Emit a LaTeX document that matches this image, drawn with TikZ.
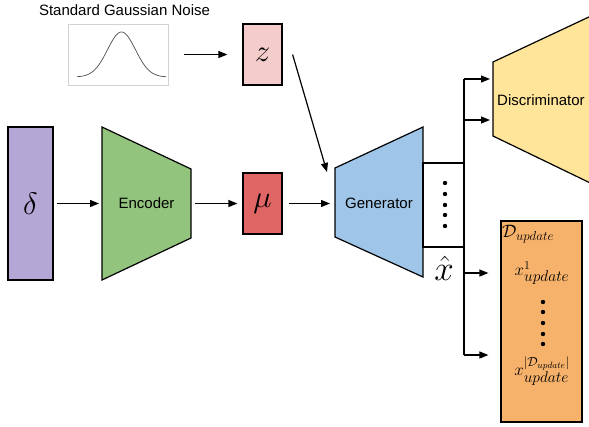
\RequirePackage{fix-cm}
\documentclass[tikz,border=0pt]{standalone}
\usepackage{fontspec}
\newfontfamily\arialf{Liberation Sans}
\usetikzlibrary{arrows.meta,calc}
\definecolor{zpink}{HTML}{F4CCCC}
\definecolor{dpurple}{HTML}{B4A7D6}
\definecolor{egreen}{HTML}{93C47D}
\definecolor{mred}{HTML}{E06666}
\definecolor{gblue}{HTML}{9FC5E8}
\definecolor{dyellow}{HTML}{FFE599}
\definecolor{dorange}{HTML}{F6B26B}
\newcommand{\fsz}[2]{\mbox{\fontsize{#1}{#1}\selectfont$#2$}}
\begin{document}
\begin{tikzpicture}[x=1pt,y=-1pt,
  box/.style={draw=black, line width=1.2pt, inner sep=0pt},
  ghost/.style={inner sep=0pt, outer sep=0pt},
  arr/.style={-{Triangle[length=9pt,width=7pt]}, line width=1.2pt},
  lab/.style={font=\arialf\fontsize{15}{15}\selectfont, inner sep=0pt},
  bigmath/.style={font=\fontsize{31}{31}\selectfont, inner sep=0pt},
  smallmath/.style={font=\fontsize{17}{17}\selectfont, inner sep=0pt}]
\useasboundingbox (0,0) rectangle (589,426);
\clip (0,0) rectangle (589,426);

% Gaussian noise
\node[lab] (title) at (124.5,10) {Standard Gaussian Noise};
\node[draw=gray!35, line width=0.7pt, minimum width=100pt, minimum height=61pt] (g) at (118,54.5) {};
\draw[gray!60!black, line width=0.7pt] plot[domain=77:166, samples=90] (\x, {77-45*exp(-((\x-121.5)/14)^2/2)});

% z
\node[box, fill=zpink, minimum width=39pt, minimum height=61pt] (z) at (262.5,54.5) {};
\node[bigmath] (zl) at (z) {$z$};
\draw[arr, shorten <=16pt, shorten >=15pt] (g.east) -- (z.west);

% delta
\node[box, fill=dpurple, minimum width=45pt, minimum height=153pt] (delta) at (30.5,203.5) {};
\node[bigmath] (dl) at (delta) {$\delta$};

% encoder
\node[ghost, minimum width=89pt, minimum height=153pt] (enc) at (146.5,203.5) {};
\draw[box, fill=egreen] (enc.north west) -- ($(enc.north east)+(0,42)$) -- ($(enc.south east)+(0,-42)$) -- (enc.south west) -- cycle;
\node[lab] (encl) at (enc) {Encoder};
\draw[arr, shorten <=3pt, shorten >=3pt] (delta.east) -- (enc.west);

% mu
\node[box, fill=mred, minimum width=39pt, minimum height=61pt] (mu) at (262.5,203.5) {};
\node[bigmath] (mul) at (mu) {$\mu$};
\draw[arr, shorten <=4pt, shorten >=5pt] (enc.east) -- (mu.west);

% generator
\node[ghost, minimum width=88pt, minimum height=150pt] (gen) at (379,202) {};
\draw[box, fill=gblue] ($(gen.north west)+(0,41)$) -- (gen.north east) -- (gen.south east) -- ($(gen.south west)+(0,-40)$) -- cycle;
\node[lab] (genl) at (379,203) {Generator};
\draw[arr, shorten <=6pt, shorten >=5pt] (mu.east) -- (mu.east -| gen.west);
\coordinate (gtl) at ($(gen.north west)+(0,41)$);
\draw[arr] ($(z.east)+(10,0)$) -- ($(gtl)+(-8,4)$);

% generator output
\node[box, minimum width=41pt, minimum height=84pt] (out) at (443.5,205) {};
\foreach \yy in {183,194,205,215,226} \fill (445,\yy) circle (2.2pt);
\node[font=\fontsize{35}{35}\selectfont, inner sep=0pt] (xhat) at (444,268) {$\hat{x}$};

% bus
\coordinate (btop) at (464,79);
\coordinate (bbot) at (464,355);
\draw[line width=1.2pt] (btop) -- (bbot);

% discriminator
\node[ghost, minimum width=0pt, minimum height=74pt, anchor=west] (disc) at (493,99) {};
\draw[box, fill=dyellow] (disc.north west) -- (640,-7) -- (640,207) -- (disc.south west) -- cycle;
\node[lab, anchor=west] (discl) at (497,100) {Discriminator};
\coordinate (b1) at (464,120);
\draw[arr, shorten >=3pt] (btop) -- (btop -| disc.west);
\draw[arr, shorten >=3pt] (b1) -- (b1 -| disc.west);

% D update box
\node[box, fill=dorange, minimum width=81pt, minimum height=201pt] (dbox) at (541.5,321.5) {};
\coordinate (b2) at (464,273);
\draw[arr, shorten >=12pt] (b2) -- (b2 -| dbox.west);
\draw[arr, shorten >=12pt] (bbot) -- (bbot -| dbox.west);
\node[font=\fontsize{18}{18}\selectfont, inner sep=0pt, anchor=west] (dup) at (502,234) {$\mathcal{D}_{\fsz{13}{update}}$};
\node[smallmath] (x1) at (542,273) {$x^{\fsz{12}{1}}_{\fsz{15.5}{update}}$};
\foreach \yy in {302,312,323,334,344} \fill (543,\yy) circle (2.2pt);
\node[smallmath] (xn) at (542,371) {$x^{\fsz{13}{|\mathcal{D}_{update}|}}_{\fsz{15.5}{update}}$};
\end{tikzpicture}
\end{document}
